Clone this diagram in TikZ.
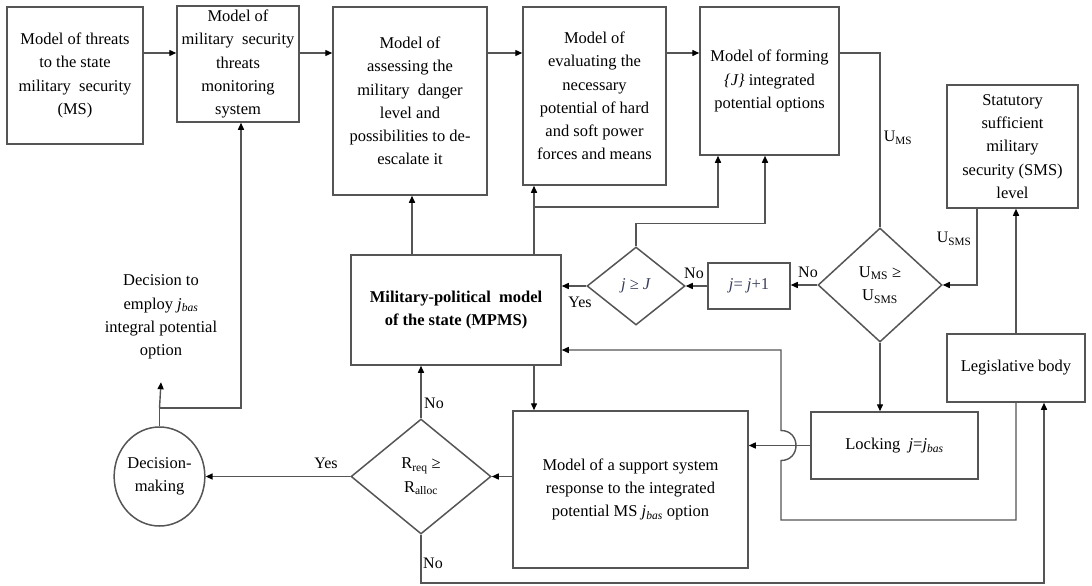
\documentclass[tikz,border=0pt]{standalone}
\usepackage{fontspec}
\setmainfont{Liberation Serif}
\usetikzlibrary{shapes.geometric,arrows.meta}
\definecolor{linec}{RGB}{85,85,85}
\definecolor{slate}{RGB}{55,60,90}
\tikzset{
  base/.style={font=\fontsize{16.5}{23.3}\selectfont, align=center},
  box/.style={base, draw=linec, line width=1.5pt, inner sep=0pt},
  dia/.style={base, draw=linec, line width=1.5pt, shape=diamond, inner sep=0pt},
  lbl/.style={font=\fontsize{16}{18}\selectfont, inner sep=0pt},
  conn/.style={draw=linec, line width=1.4pt},
  arr/.style={conn, -{Triangle[length=7pt,width=6pt,color=black]}},
}
\begin{document}
\begin{tikzpicture}[x=1pt,y=-1pt]
\useasboundingbox (0,0) rectangle (1092,586);
% boxes
\node[box, minimum width=136pt, minimum height=137pt] (b1) at (75,75.5)
  {Model of threats\\to the state\\military\ \ security\\(MS)};
\node[box, minimum width=122pt, minimum height=116pt] (b2) at (238,64)
  {Model of\\military\ \ security\\threats\\monitoring\\system};
\node[box, minimum width=154pt, minimum height=188pt] (b3) at (410,101)
  {Model of\\assessing the\\military\ \ danger\\level and\\possibilities to de-\\escalate it};
\node[box, minimum width=143pt, minimum height=178pt] (b4) at (594.5,96)
  {Model of\\evaluating the\\necessary\\potential of hard\\and soft power\\forces and means};
\node[box, minimum width=139pt, minimum height=148pt] (b5) at (769.5,81)
  {Model of forming\\\textit{\{J\}} integrated\\potential options};
\node[box, minimum width=131pt, minimum height=123pt] (b6) at (1012.5,146.5)
  {Statutory\\sufficient\\military\\security (SMS)\\level};
\node[box, minimum width=138pt, minimum height=68pt] (legis) at (1016,368)
  {Legislative body};
\node[box, minimum width=210pt, minimum height=110pt, font=\bfseries\fontsize{16.5}{23.3}\selectfont] (mpms) at (456,310)
  {Military-political\ \ model\\of the state (MPMS)};
\node[box, minimum width=82pt, minimum height=46pt, text=slate] (jbox) at (749,286)
  {\textit{j}= \textit{j}+1};
\node[dia, minimum width=98pt, minimum height=78pt, text=slate] (d2) at (636,286)
  {\textit{j} ≥ \textit{J}};
\node[dia, minimum width=124pt, minimum height=114pt] (d1) at (880,285)
  {U\textsubscript{MS} ≥\\U\textsubscript{SMS}};
\node[box, minimum width=167pt, minimum height=67pt] (lock) at (894.5,445.5)
  {Locking\ \ \textit{j}=\textit{j}\textsubscript{\textit{bas}}};
\node[box, minimum width=235pt, minimum height=157pt] (sup) at (630.5,489.5)
  {Model of a support system\\response to the integrated\\potential MS \textit{j}\textsubscript{\textit{bas}} option};
\node[dia, minimum width=140pt, minimum height=115pt] (d3) at (421,476.5)
  {R\textsubscript{req} ≥\\R\textsubscript{alloc}};
\node[base, draw=linec, line width=1.5pt, shape=ellipse, inner sep=0pt, minimum width=87pt, minimum height=99pt] (ell) at (159.5,476.5)
  {Decision-\\making};
\node[base, inner sep=0pt, minimum height=130pt] (dec) at (161,317)
  {Decision to\\employ \textit{j}\textsubscript{\textit{bas}}\\integral potential\\option};
% helper coordinates
\coordinate (r1) at (0,53);
\coordinate (r207) at (0,207);
\coordinate (r408) at (0,408);
\coordinate (r350) at (0,350);
\coordinate (r520) at (0,520);
\coordinate (r583) at (0,583);
\coordinate (cx781) at (781,0);
% top row
\draw[arr] (b1.east |- r1) -- (b2.west |- r1);
\draw[arr] (b2.east |- r1) -- (b3.west |- r1);
\draw[arr] (b3.east |- r1) -- (b4.west |- r1);
\draw[arr] (b4.east |- r1) -- (b5.west |- r1);
\draw[conn] (b5.east |- r1) -| (d1.north);
\node[lbl] (ums) at (898,138) {U\textsubscript{MS}};
% SMS to D1
\draw[arr] ([xshift=-35.5pt]b6.south) |- (d1.east);
\node[lbl] (usms) at (954,239) {U\textsubscript{SMS}};
\draw[arr] (legis.north) -- (legis.north |- b6.south);
% D1 -> j box -> D2 -> MPMS
\draw[arr] (d1.west) -- (jbox.east |- d1.west);
\node[lbl] (no1) at (808,272) {No};
\draw[arr] (jbox.west) -- (d2.east |- jbox.west);
\node[lbl] (no2) at (694,273) {No};
\draw[arr] (d2.west) -- (mpms.east |- d2.west);
\node[lbl] (yes1) at (580,302) {Yes};
\draw[arr] (d2.north) -- ++(0,-23) -| ([xshift=-4.5pt]b5.south);
% MPMS upward
\draw[arr] ([xshift=-44pt]mpms.north) -- ([xshift=-44pt]mpms.north |- b3.south);
\draw[arr] ([xshift=78pt]mpms.north) -- ([xshift=78pt]mpms.north |- b4.south);
\draw[arr] ([xshift=78pt]mpms.north |- r207) -| ([xshift=-51.5pt]b5.south);
% MPMS down / D3
\draw[arr] ([xshift=78pt]mpms.south) -- ([xshift=78pt]mpms.south |- sup.north);
\draw[arr] (d3.north) -- (d3.north |- mpms.south);
\node[lbl] (no3) at (434,403) {No};
\draw[arr] (sup.west |- d3.east) -- (d3.east);
\draw[arr] (d3.west) -- (ell.east);
\node[lbl] (yes2) at (326,463) {Yes};
% decision making up
\draw[conn] (ell.north) -- (ell.north |- r408);
\draw[arr] (ell.north |- r408) -- (dec.south);
\draw[arr] (ell.north |- r408) -| ([xshift=3pt]b2.south);
% D1 down to locking, locking to support
\draw[arr] (d1.south) -- (d1.south |- lock.north);
\draw[arr] (lock.west) -- (lock.west -| sup.east);
% legislative loop back to MPMS with jump
\draw[arr] ([xshift=0pt]legis.south) -- (legis.south |- r520) -- (cx781 |- r520)
  -- ([yshift=-15pt]cx781 |- lock.west)
  .. controls ([xshift=20pt,yshift=-15pt]cx781 |- lock.west) and ([xshift=20pt,yshift=15pt]cx781 |- lock.west) ..
  ([yshift=15pt]cx781 |- lock.west) -- (cx781 |- r350) -- (mpms.east |- r350);
% D3 no -> legislative
\draw[arr] (d3.south) -- (d3.south |- r583) -| ([xshift=28pt]legis.south);
\node[lbl] (no4) at (433,563) {No};
\end{tikzpicture}
\end{document}
